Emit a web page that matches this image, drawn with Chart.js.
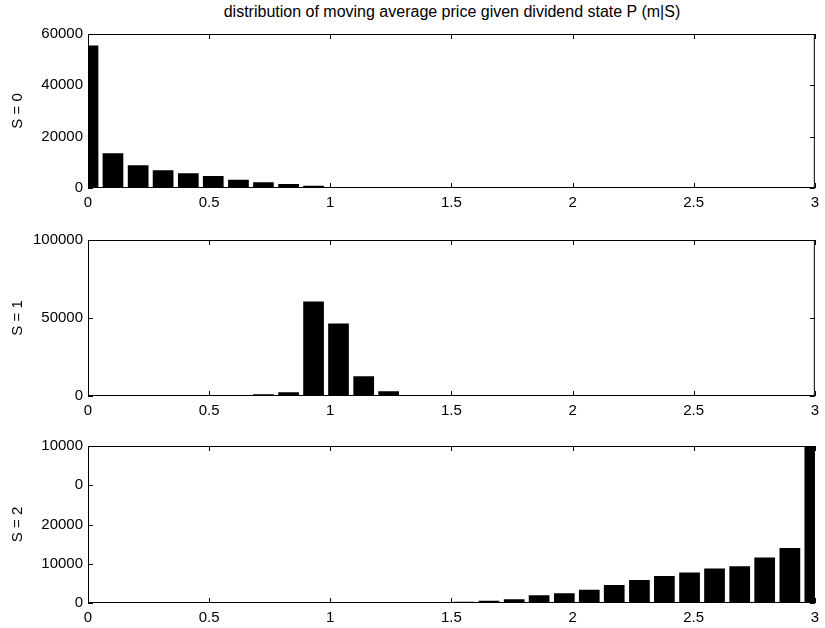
<!DOCTYPE html>
<html>
<head>
<meta charset="utf-8">
<script src="https://cdn.jsdelivr.net/npm/chart.js@4.4.1/dist/chart.umd.min.js"></script>
<style>
    body { margin: 0; background: #fff; }
    #wrap { position: relative; width: 825px; height: 628px; }
    #title { position: absolute; left: 0; width: 904px; top: 3px; text-align: center;
             font: 16px "Liberation Sans", Arial, sans-serif; color: #000; }
    canvas { position: absolute; left: 0; }
</style>
</head>
<body>
<div id="wrap">
    <div id="title">distribution of moving average price given dividend state P (m|S)</div>
    <canvas id="panel0" style="top:0px"></canvas>
    <canvas id="panel1" style="top:210px"></canvas>
    <canvas id="panel2" style="top:418px"></canvas>
</div>
<script>
var binCenters = [0, 0.103, 0.207, 0.31, 0.414, 0.517, 0.621, 0.724, 0.828, 0.931,
    1.034, 1.138, 1.241, 1.345, 1.448, 1.552, 1.655, 1.759, 1.862, 1.966,
    2.069, 2.172, 2.276, 2.379, 2.483, 2.586, 2.69, 2.793, 2.897, 3];

var s0Counts = [55500, 13500, 8850, 6900, 5700, 4700, 3250, 2200, 1550, 900,
    400, 150, 100, 50, 0, 0, 0, 0, 0, 0,
    0, 0, 0, 0, 0, 0, 0, 0, 0, 0];

var s1Counts = [0, 0, 0, 0, 300, 300, 500, 1100, 2400, 60500,
    46500, 12600, 3000, 600, 400, 300, 0, 0, 0, 0,
    0, 0, 0, 0, 0, 0, 0, 0, 0, 0];

var s2Counts = [100, 100, 100, 100, 100, 100, 100, 100, 100, 100,
    100, 100, 100, 100, 250, 350, 600, 940, 1960, 2470,
    3400, 4600, 5870, 6900, 7740, 8760, 9350, 11600, 14000, 40000];

var xTickLabels = ['0', '0.5', '1', '1.5', '2', '2.5', '3'];
var s0TickLabels = ['0', '20000', '40000', '60000'];
var s1TickLabels = ['0', '50000', '100000'];
var s2TickLabels = ['0', '10000', '20000', '0', '10000'];

var FONT = '"Liberation Sans", Arial, sans-serif';

// matlab style box with ticks pointing inward
var boxPlugin = {
    id: 'box',
    afterDraw: function (chart) {
        var ctx = chart.ctx;
        var a = chart.chartArea;
        var len = 5;
        ctx.save();
        ctx.strokeStyle = '#000';
        ctx.lineWidth = 1;
        ctx.strokeRect(a.left + 0.5, a.top + 0.5, a.right - a.left - 1, a.bottom - a.top - 1);
        ctx.beginPath();
        chart.scales.x.ticks.forEach(function (t) {
            var px = Math.round(chart.scales.x.getPixelForValue(t.value)) + 0.5;
            ctx.moveTo(px, a.bottom); ctx.lineTo(px, a.bottom - len);
            ctx.moveTo(px, a.top); ctx.lineTo(px, a.top + len);
        });
        chart.scales.y.ticks.forEach(function (t) {
            var py = Math.round(chart.scales.y.getPixelForValue(t.value)) + 0.5;
            ctx.moveTo(a.left, py); ctx.lineTo(a.left + len, py);
            ctx.moveTo(a.right, py); ctx.lineTo(a.right - len, py);
        });
        ctx.stroke();
        ctx.restore();
    }
};

function createPanel(canvasId, height, padTop, label, counts, yMax, yStep, yLabels) {
    var canvas = document.getElementById(canvasId);
    canvas.width = 825;
    canvas.height = height;
    canvas.style.width = '825px';
    canvas.style.height = height + 'px';

    var points = binCenters.map(function (x, i) {
        return { x: x, y: counts[i] };
    });

    new Chart(canvas.getContext('2d'), {
        type: 'bar',
        data: {
            datasets: [
                {
                    data: points,
                    backgroundColor: '#000',
                    borderWidth: 0,
                    barPercentage: 0.83,
                    categoryPercentage: 1,
                    clip: 0
                }
            ]
        },
        options: {
            responsive: false,
            animation: false,
            events: [],
            layout: { padding: { top: padTop, right: 9, bottom: 0, left: 0 } },
            plugins: { legend: { display: false }, tooltip: { enabled: false } },
            scales: {
                x: {
                    type: 'linear',
                    min: 0,
                    max: 3,
                    offset: false,
                    grid: { display: false, drawTicks: false, tickLength: 0 },
                    border: { display: false },
                    ticks: {
                        stepSize: 0.5,
                        padding: 6,
                        maxRotation: 0,
                        color: '#000',
                        font: { family: FONT, size: 15 },
                        callback: function (v, i) { return xTickLabels[i]; }
                    },
                    afterFit: function (scale) { scale.height = 24; }
                },
                y: {
                    min: 0,
                    max: yMax,
                    grid: { display: false, drawTicks: false, tickLength: 0 },
                    border: { display: false },
                    ticks: {
                        stepSize: yStep,
                        padding: 5,
                        color: '#000',
                        font: { family: FONT, size: 15 },
                        callback: function (v, i) { return yLabels[i]; }
                    },
                    title: {
                        display: true,
                        text: label,
                        color: '#000',
                        padding: { top: 9, bottom: 0 },
                        font: { family: FONT, size: 15 }
                    },
                    afterFit: function (scale) { scale.width = 88; }
                }
            }
        },
        plugins: [boxPlugin]
    });
}

createPanel('panel0', 212, 34, 'S = 0', s0Counts, 60000, 20000, s0TickLabels);
createPanel('panel1', 420 - 210, 30, 'S = 1', s1Counts, 100000, 50000, s1TickLabels);
createPanel('panel2', 627 - 418, 28, 'S = 2', s2Counts, 40000, 10000, s2TickLabels);
</script>
</body>
</html>
